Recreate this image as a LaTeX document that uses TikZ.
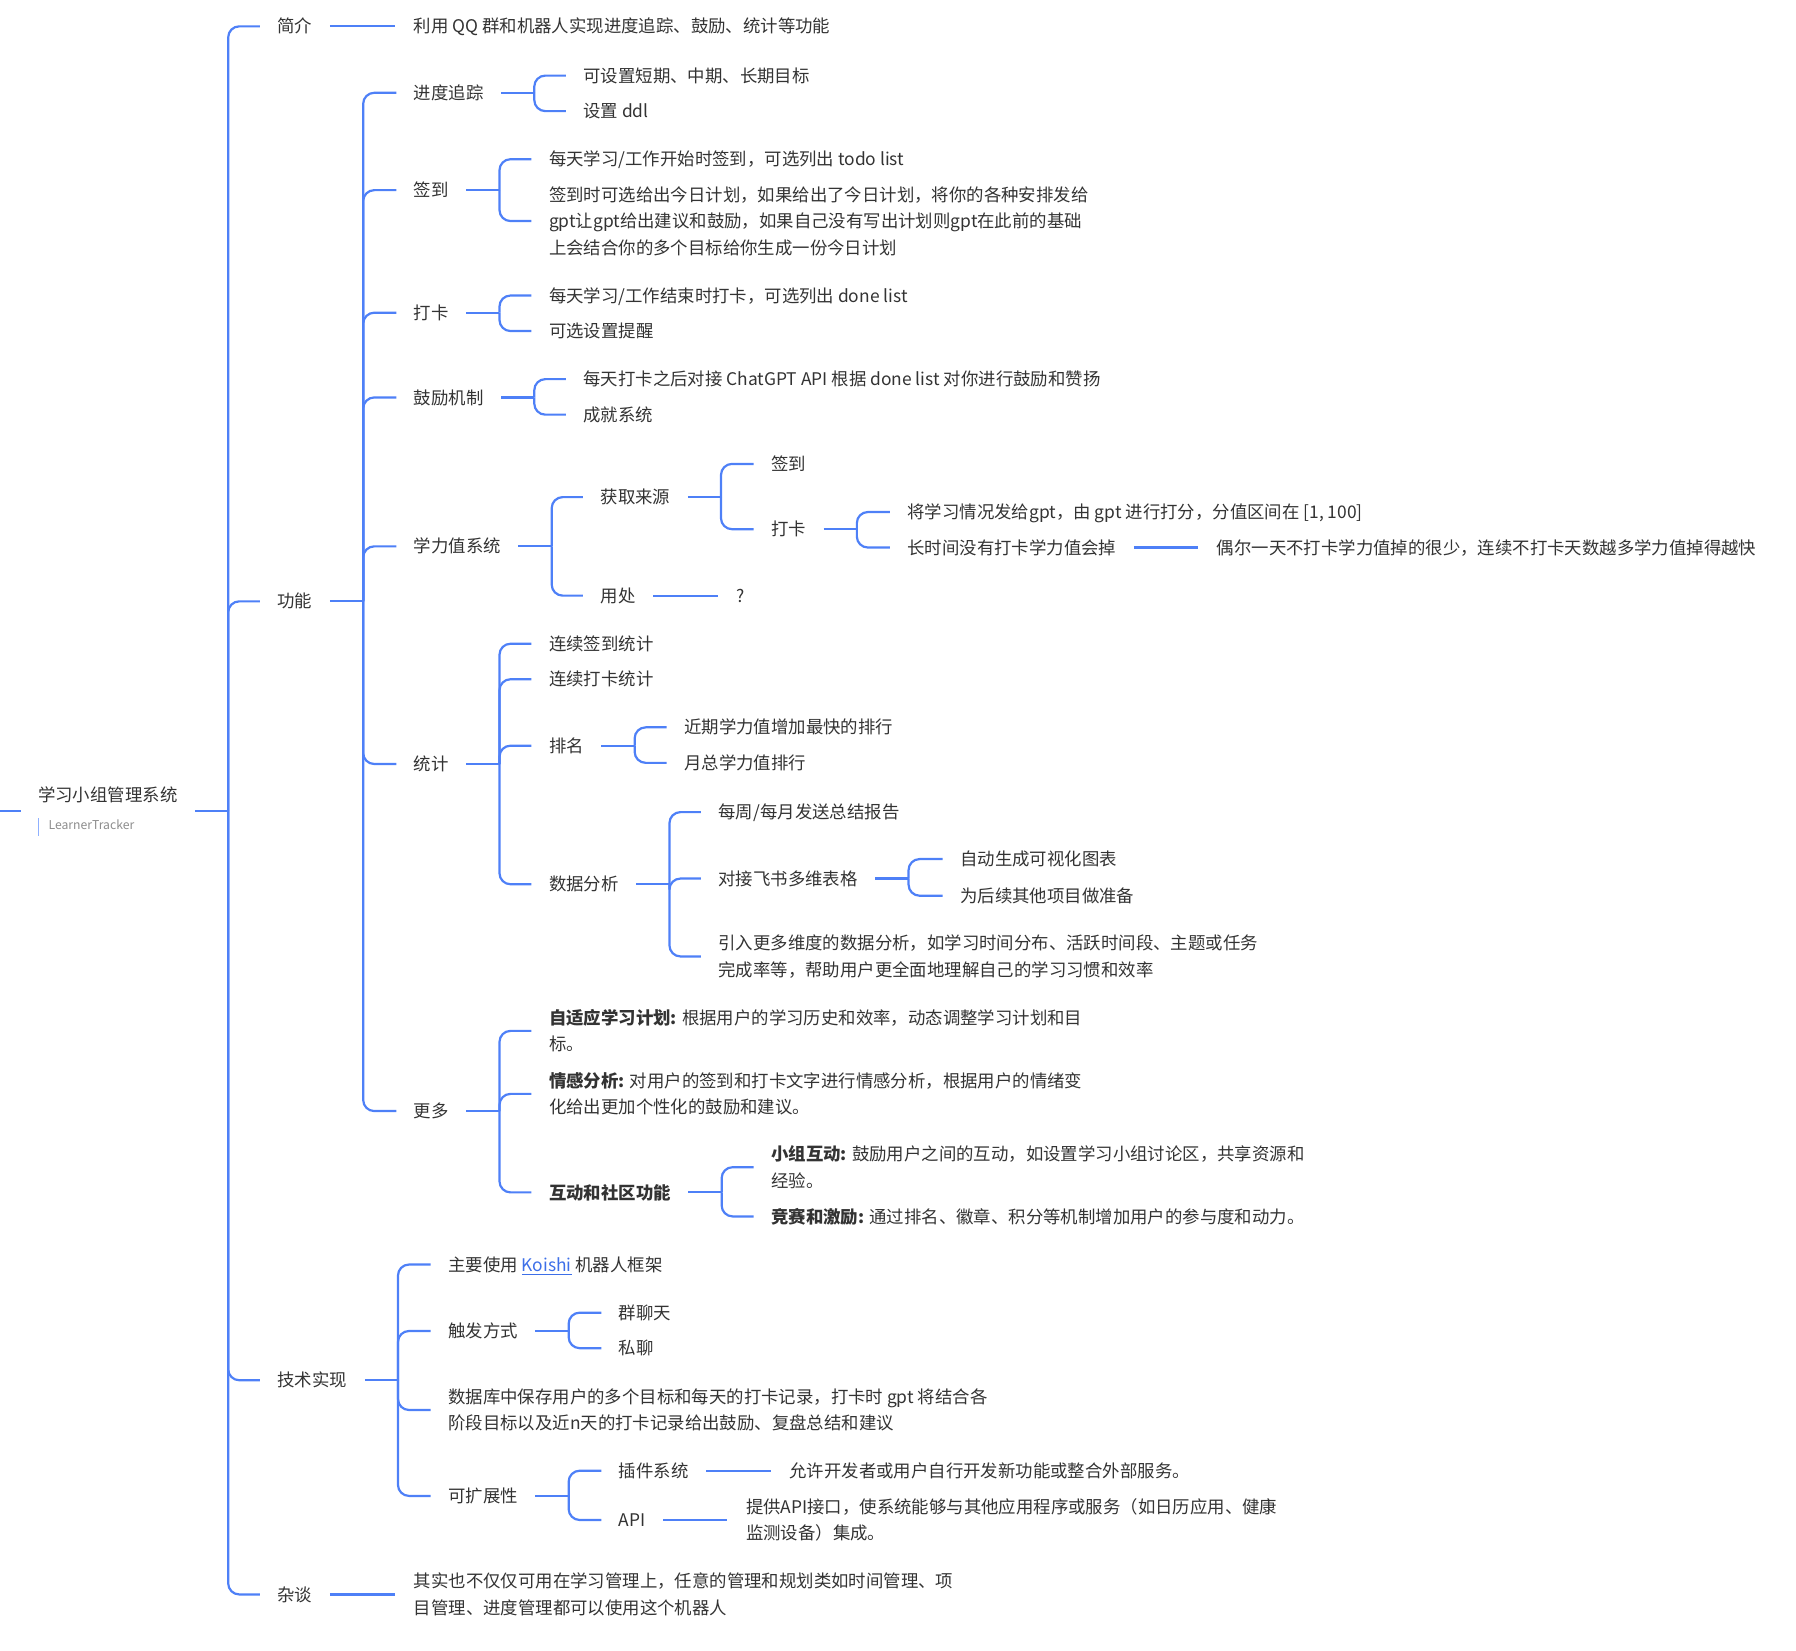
\documentclass[tikz,border=0pt]{standalone}
\usepackage{fontspec}
\setmainfont{Noto Sans CJK SC}
\usetikzlibrary{positioning}
\definecolor{branch}{HTML}{4E80F7}
\definecolor{ink}{HTML}{333333}
\definecolor{subtle}{HTML}{8C8C8C}
\definecolor{barblue}{HTML}{8FB0FF}
\definecolor{linkblue}{HTML}{3D6FE8}

\begin{document}
\begin{tikzpicture}[
    x=0.5727pt, y=-0.5727pt,
    base/.style={inner sep=0pt, anchor=west, text=ink,
                 font=\fontsize{8.7pt}{13.2pt}\selectfont},
    txt/.style={base, text height=7.66pt, text depth=1.04pt},
    multi/.style={base, align=left},
    link/.style={draw=branch, line width=1.1pt, rounded corners=5.5pt}
]
    \useasboundingbox (0,0) rectangle (1568,1441);

    % 根节点
    \coordinate (inlet) at (0,708);
    \node[multi] (root) at (33,708) {学习小组管理系统\\[0.8pt]{\color{barblue}\rule[-3.2pt]{0.5pt}{8.6pt}}\hspace{4.7pt}{\fontsize{6.1pt}{6.5pt}\selectfont\color{subtle}LearnerTracker}};

    % 一级分支
    \node[txt] (jj)   at (242,23)   {简介};
    \node[txt] (gn)   at (242,525)  {功能};
    \node[txt] (jssx) at (242,1205) {技术实现};
    \node[txt] (zt)   at (242,1392) {杂谈};

    \node[txt] (jjtxt) at (361,23) {利用 QQ 群和机器人实现进度追踪、鼓励、统计等功能};
    \node[multi] (zttxt) at (361,1392) {其实也不仅仅可用在学习管理上，任意的管理和规划类如时间管理、项\\目管理、进度管理都可以使用这个机器人};

    % 功能
    \node[txt] (jdzz) at (361,81)  {进度追踪};
    \node[txt] (qd)   at (361,166) {签到};
    \node[txt] (dk)   at (361,273) {打卡};
    \node[txt] (gljz) at (361,347) {鼓励机制};
    \node[txt] (xlz)  at (361,477) {学力值系统};
    \node[txt] (tj)   at (361,667) {统计};
    \node[txt] (gd)   at (361,970) {更多};

    \node[txt] (jdzz1) at (509,66) {可设置短期、中期、长期目标};
    \node[txt] (jdzz2) at (509,97) {设置 ddl};

    \node[txt] (qd1) at (479,139) {每天学习/工作开始时签到，可选列出 todo list};
    \node[multi] (qd2) at (479,193) {签到时可选给出今日计划，如果给出了今日计划，将你的各种安排发给\\gpt让gpt给出建议和鼓励，如果自己没有写出计划则gpt在此前的基础\\上会结合你的多个目标给你生成一份今日计划};

    \node[txt] (dk1) at (479,258) {每天学习/工作结束时打卡，可选列出 done list};
    \node[txt] (dk2) at (479,289) {可选设置提醒};

    \node[txt] (gljz1) at (509,331) {每天打卡之后对接 ChatGPT API 根据 done list 对你进行鼓励和赞扬};
    \node[txt] (gljz2) at (509,362) {成就系统};

    % 学力值系统
    \node[txt] (hqly) at (524,434) {获取来源};
    \node[txt] (yc)   at (524,520) {用处};
    \node[txt] (ly1)  at (673,405) {签到};
    \node[txt] (ly2)  at (673,462) {打卡};
    \node[txt] (df)   at (792,447) {将学习情况发给gpt，由 gpt 进行打分，分值区间在 [1, 100]};
    \node[txt] (dz)   at (792,478) {长时间没有打卡学力值会掉};
    \node[txt] (dzsm) at (1062,478) {偶尔一天不打卡学力值掉的很少，连续不打卡天数越多学力值掉得越快};
    \node[txt] (ycq)  at (643,520) {?};

    % 统计
    \node[txt] (tj1)  at (479,562) {连续签到统计};
    \node[txt] (tj2)  at (479,593) {连续打卡统计};
    \node[txt] (pm)   at (479,651) {排名};
    \node[txt] (sjfx) at (479,772) {数据分析};
    \node[txt] (pm1)  at (597,635) {近期学力值增加最快的排行};
    \node[txt] (pm2)  at (597,666) {月总学力值排行};
    \node[txt] (fx1)  at (627,709) {每周/每月发送总结报告};
    \node[txt] (fs)   at (627,767) {对接飞书多维表格};
    \node[multi] (fx3) at (627,835) {引入更多维度的数据分析，如学习时间分布、活跃时间段、主题或任务\\完成率等，帮助用户更全面地理解自己的学习习惯和效率};
    \node[txt] (fs1)  at (838,750) {自动生成可视化图表};
    \node[txt] (fs2)  at (838,782) {为后续其他项目做准备};

    % 更多
    \node[multi] (gd1) at (479,900) {\textbf{自适应学习计划:} 根据用户的学习历史和效率，动态调整学习计划和目\\标。};
    \node[multi] (gd2) at (479,955) {\textbf{情感分析:} 对用户的签到和打卡文字进行情感分析，根据用户的情绪变\\化给出更加个性化的鼓励和建议。};
    \node[txt] (hd) at (479,1041) {\textbf{互动和社区功能}};
    \node[multi] (hd1) at (673,1019) {\textbf{小组互动:} 鼓励用户之间的互动，如设置学习小组讨论区，共享资源和\\经验。};
    \node[txt] (hd2) at (673,1062) {\textbf{竞赛和激励:} 通过排名、徽章、积分等机制增加用户的参与度和动力。};

    % 技术实现
    \node[txt] (ks)  at (391,1104) {主要使用 \textcolor{linkblue}{\underline{Koishi}} 机器人框架};
    \node[txt] (cf)  at (391,1162) {触发方式};
    \node[multi] (sjk) at (391,1231) {数据库中保存用户的多个目标和每天的打卡记录，打卡时 gpt 将结合各\\阶段目标以及近n天的打卡记录给出鼓励、复盘总结和建议};
    \node[txt] (kz)  at (391,1306) {可扩展性};
    \node[txt] (cf1) at (540,1146) {群聊天};
    \node[txt] (cf2) at (540,1177) {私聊};
    \node[txt] (cj)  at (540,1284) {插件系统};
    \node[txt] (api) at (540,1327) {API};
    \node[txt] (cjsm) at (689,1284) {允许开发者或用户自行开发新功能或整合外部服务。};
    \node[multi] (apism) at (651,1327) {提供API接口，使系统能够与其他应用程序或服务（如日历应用、健康\\监测设备）集成。};

    % 连线
    \draw[link] (inlet) -- ([xshift=-8.6pt]root.west);
    \foreach \p in {root,gn,jssx,jdzz,qd,dk,gljz,xlz,hqly,ly2,tj,pm,sjfx,fs,gd,hd,cf,kz}
        \draw[link] ([xshift=8.6pt]\p.east) -- ([xshift=25.2pt]\p.east);
    \foreach \p/\c in {root/jj,root/gn,root/jssx,root/zt,
                       gn/jdzz,gn/qd,gn/dk,gn/gljz,gn/xlz,gn/tj,gn/gd,
                       jdzz/jdzz1,jdzz/jdzz2,qd/qd1,qd/qd2,dk/dk1,dk/dk2,gljz/gljz1,gljz/gljz2,
                       xlz/hqly,xlz/yc,hqly/ly1,hqly/ly2,ly2/df,ly2/dz,
                       tj/tj1,tj/tj2,tj/pm,tj/sjfx,pm/pm1,pm/pm2,sjfx/fx1,sjfx/fs,sjfx/fx3,fs/fs1,fs/fs2,
                       gd/gd1,gd/gd2,gd/hd,hd/hd1,hd/hd2,
                       jssx/ks,jssx/cf,jssx/sjk,jssx/kz,cf/cf1,cf/cf2,kz/cj,kz/api}
        \draw[link] ([xshift=25.2pt]\p.east) |- ([xshift=-8.6pt]\c.west);
    \foreach \p/\c in {jj/jjtxt,zt/zttxt,dz/dzsm,yc/ycq,cj/cjsm,api/apism}
        \draw[link] ([xshift=8.6pt]\p.east) -- ([xshift=-9.2pt]\c.west |- \p.east);
\end{tikzpicture}
\end{document}
